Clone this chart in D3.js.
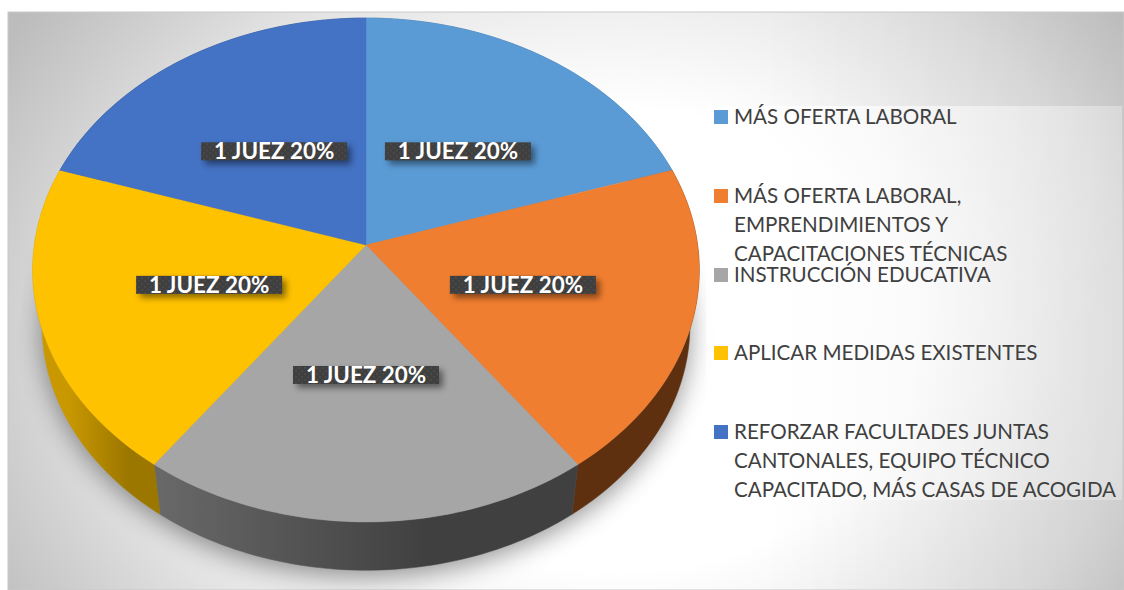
<!DOCTYPE html>
<html><head><meta charset="utf-8">
<script src="https://cdn.jsdelivr.net/npm/d3@7/dist/d3.min.js"></script>
<style>html,body{margin:0;padding:0;background:#fff}svg{display:block}</style>
</head><body><svg id="c" width="1124" height="590"></svg>
<script>
const categories=["MÁS OFERTA LABORAL","MÁS OFERTA LABORAL, EMPRENDIMIENTOS Y CAPACITACIONES TÉCNICAS","INSTRUCCIÓN EDUCATIVA","APLICAR MEDIDAS EXISTENTES","REFORZAR FACULTADES JUNTAS CANTONALES, EQUIPO TÉCNICO CAPACITADO, MÁS CASAS DE ACOGIDA"];
const legendLines=[["MÁS OFERTA LABORAL"],["MÁS OFERTA LABORAL,","EMPRENDIMIENTOS Y","CAPACITACIONES TÉCNICAS"],["INSTRUCCIÓN EDUCATIVA"],["APLICAR MEDIDAS EXISTENTES"],["REFORZAR FACULTADES JUNTAS","CANTONALES, EQUIPO TÉCNICO","CAPACITADO, MÁS CASAS DE ACOGIDA"]];
const values=[20,20,20,20,20];
const jueces=[1,1,1,1,1];
const colors=["#5b9bd5","#f07e30","#a6a6a6","#ffc200","#4472c4"];
const sideColors=[["#3a6a95","#3a6a95"],["#5f3010","#5f3010"],["#686868","#404040"],["#c99800","#9c7700"],["#2c4a80","#2c4a80"]];

const svg=d3.select("#c"),defs=svg.append("defs");
const bg=defs.append("radialGradient").attr("id","bg").attr("gradientUnits","userSpaceOnUse")
 .attr("cx",0).attr("cy",0).attr("r",720).attr("gradientTransform","translate(620,340) scale(1,0.8)");
[[0,"#ffffff"],[.4,"#ffffff"],[.72,"#e2e2e2"],[1,"#bcbcbc"]].forEach(s=>bg.append("stop").attr("offset",s[0]).attr("stop-color",s[1]));
const ov=defs.append("linearGradient").attr("id","ov").attr("gradientUnits","userSpaceOnUse").attr("x1",760).attr("x2",1124).attr("y1",0).attr("y2",0);
ov.append("stop").attr("offset",0).attr("stop-color","#000").attr("stop-opacity",0);
ov.append("stop").attr("offset",1).attr("stop-color","#000").attr("stop-opacity",.07);
defs.append("filter").attr("id","blur").attr("x","-20%").attr("y","-20%").attr("width","140%").attr("height","140%")
 .append("feGaussianBlur").attr("stdDeviation",13);
defs.append("clipPath").attr("id","shClip").append("polygon").attr("points","37,180 10,390 8,590 1124,590 724,403 700,200");
const ls=defs.append("filter").attr("id","lblur").attr("x","-20%").attr("y","-40%").attr("width","140%").attr("height","200%");
ls.append("feGaussianBlur").attr("stdDeviation",3);
const pat=defs.append("pattern").attr("id","dots").attr("width",6).attr("height",6).attr("patternUnits","userSpaceOnUse");
pat.append("rect").attr("width",6).attr("height",6).attr("fill","#3f3f3f");
pat.append("circle").attr("cx",2).attr("cy",2).attr("r",.8).attr("fill","#555");
pat.append("circle").attr("cx",5).attr("cy",5).attr("r",.8).attr("fill","#555");

svg.append("rect").attr("x",8).attr("y",12).attr("width",1116).attr("height",578).attr("fill","url(#bg)");
svg.append("rect").attr("x",8).attr("y",12).attr("width",1116).attr("height",578).attr("fill","url(#ov)");
svg.append("rect").attr("x",8).attr("y",12).attr("width",1116).attr("height",578).attr("fill","none").attr("stroke","#c9c9c9").attr("stroke-width",1);

// projective pie
const cx=366,cy=245,A=331.6,B=249.5,K=0.0992,S=0.972,CY2=301;
const top_=t=>{const u=Math.sin(t),v=-Math.cos(t),d=1-K*v;return [cx+A*u/d,cy+B*v/d]};
const low=t=>{const u=Math.sin(t),v=-Math.cos(t),d=1-K*v;return [cx+S*A*u/d,CY2+S*B*v/d]};
const arcs=d3.pie().sort(null).value(d=>d)(values);
const samp=(a,b)=>d3.range(0,61).map(i=>a+(b-a)*i/60);
const line=d3.line();
// shadow
svg.append("g").attr("clip-path","url(#shClip)").append("path").attr("d",line(samp(0,2*Math.PI).map(low))+"Z").attr("fill","#000").attr("opacity",.42).attr("filter","url(#blur)").attr("transform","translate(0,6)");
// legend box (over the shadow)
const lgBox=defs.append("linearGradient").attr("id","lgb").attr("x1",0).attr("x2",1).attr("y1",0).attr("y2",.3);
lgBox.append("stop").attr("offset",0).attr("stop-color","#fff").attr("stop-opacity",.85);
lgBox.append("stop").attr("offset",1).attr("stop-color","#fff").attr("stop-opacity",.25);
svg.append("rect").attr("x",706).attr("y",106).attr("width",416).attr("height",394).attr("fill","url(#lgb)");
// sides
arcs.forEach((a,i)=>{
 const t=samp(a.startAngle,a.endAngle);
 const g="side"+i,p0=low(a.startAngle),p1=low(a.endAngle);
 const lg=defs.append("linearGradient").attr("id",g).attr("gradientUnits","userSpaceOnUse").attr("x1",p0[0]).attr("x2",p1[0]).attr("y1",0).attr("y2",0);
 lg.append("stop").attr("offset",0).attr("stop-color",sideColors[i][1]);
 lg.append("stop").attr("offset",.35).attr("stop-color",sideColors[i][1]);
 lg.append("stop").attr("offset",1).attr("stop-color",sideColors[i][0]);
 svg.append("path").attr("d",line(t.map(top_).concat(t.slice().reverse().map(low)))+"Z").attr("fill",`url(#${g})`).attr("stroke",`url(#${g})`).attr("stroke-width",.5);
});
// top
arcs.forEach((a,i)=>{
 svg.append("path").attr("d",line([[cx,cy]].concat(samp(a.startAngle,a.endAngle).map(top_)))+"Z").attr("fill",colors[i]).attr("stroke",colors[i]).attr("stroke-width",.4);
});
// labels
const font="Lato, Carlito, sans-serif";
const lblW=146,lblH=18,lblR=.49;
arcs.forEach((a,i)=>{
 const m=(a.startAngle+a.endAngle)/2,u=Math.sin(m)*lblR,v=-Math.cos(m)*lblR,d=1-K*v;
 const x=cx+A*u/d, y=cy+B*v/d+1.5;
 const g=svg.append("g").attr("transform",`translate(${x},${y})`);
 g.append("rect").attr("x",-lblW/2+4).attr("y",-lblH/2+4).attr("width",lblW).attr("height",lblH).attr("fill","#000").attr("opacity",.45).attr("filter","url(#lblur)");
 g.append("rect").attr("x",-lblW/2).attr("y",-lblH/2).attr("width",lblW).attr("height",lblH).attr("fill","url(#dots)");
 g.append("text").attr("text-anchor","middle").attr("y",8).attr("font-family",font).attr("font-weight",700).attr("font-size",22.4).attr("fill","#fff").text(`${jueces[i]} JUEZ ${values[i]}%`);
});
// legend
const lgY=[110,189,268,346,425],lh=28.8;
legendLines.forEach((ls,i)=>{
 svg.append("rect").attr("x",714).attr("y",lgY[i]).attr("width",14).attr("height",14).attr("fill",colors[i]);
 ls.forEach((t,j)=>svg.append("text").attr("transform",`translate(734,${lgY[i]+14+j*lh}) scale(.98,1)`).attr("font-family",font).attr("font-size",21).attr("fill","#404040").text(t));
});
</script></body></html>
